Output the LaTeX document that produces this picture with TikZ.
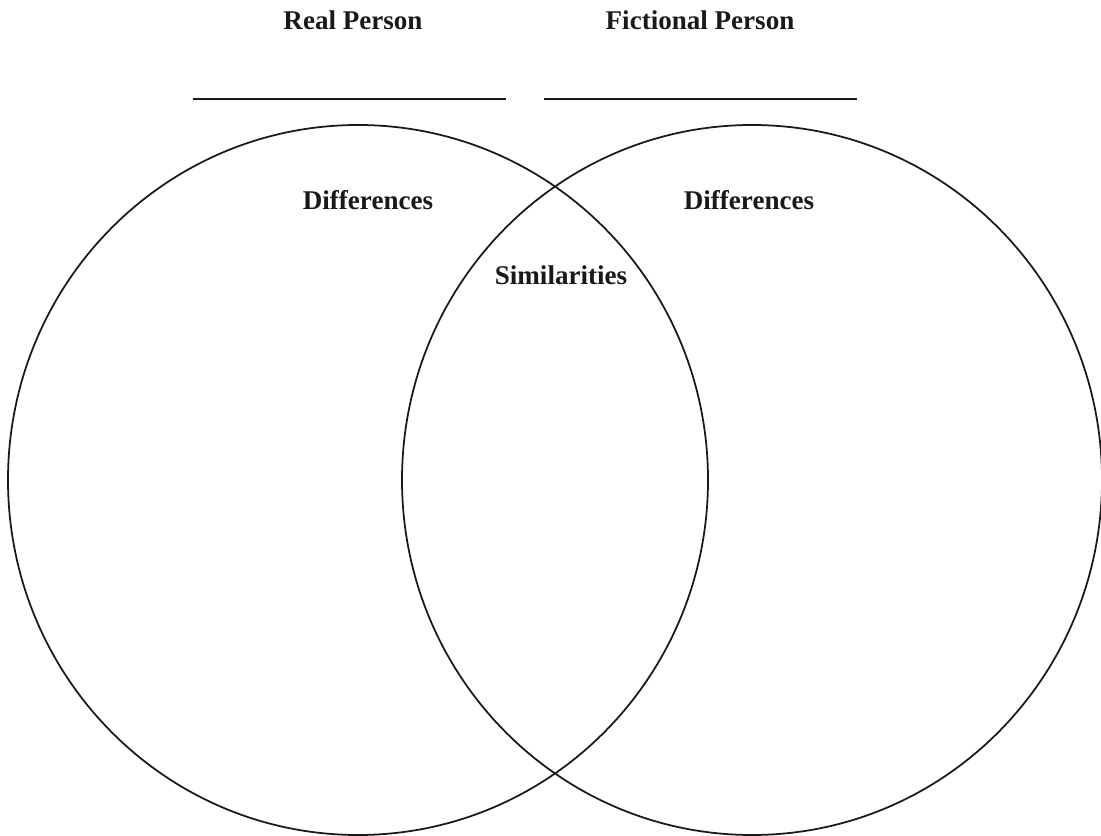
\documentclass[tikz,border=0pt]{standalone}
\usepackage{fontspec}
\setmainfont{Liberation Serif}
\usetikzlibrary{positioning, calc}

\begin{document}
\begin{tikzpicture}[x=0.02cm, y=0.02cm]
  % --- STYLE DEFINITIONS ---
  \tikzstyle{ring}=[line width=1pt, black!90]
  \tikzstyle{blank}=[line width=1.5pt, black!90]
  \tikzstyle{heading}=[anchor=base, inner sep=0pt, font=\bfseries\fontsize{15.4}{18}\selectfont, black!90]

  % page frame
  \useasboundingbox (0,0) rectangle (1101,835);

  % =================================================================
  % TITLES AND NAME LINES
  % =================================================================
  \node[heading] (real) at (353,805) {Real Person};
  \node[heading] (fict) at (700,805) {Fictional Person};
  \coordinate (L1) at (193,736);
  \coordinate (L2) at (506,736);
  \coordinate (R1) at (544,736);
  \coordinate (R2) at (857,736);
  \draw[blank] (L1) -- (L2);
  \draw[blank] (R1) -- (R2);

  % =================================================================
  % THE TWO CIRCLES
  % =================================================================
  \coordinate (CL) at (358,355);
  \coordinate (CR) at (752,355);
  \draw[ring] (CL) ellipse (350 and 355);
  \draw[ring] (CR) ellipse (350 and 355);

  % =================================================================
  % REGION LABELS
  % =================================================================
  \node[heading] (diffL) at (368,625) {Differences};
  \node[heading] (diffR) at (749,625) {Differences};
  \node[heading] (sim) at (561,550) {Similarities};
\end{tikzpicture}
\end{document}
